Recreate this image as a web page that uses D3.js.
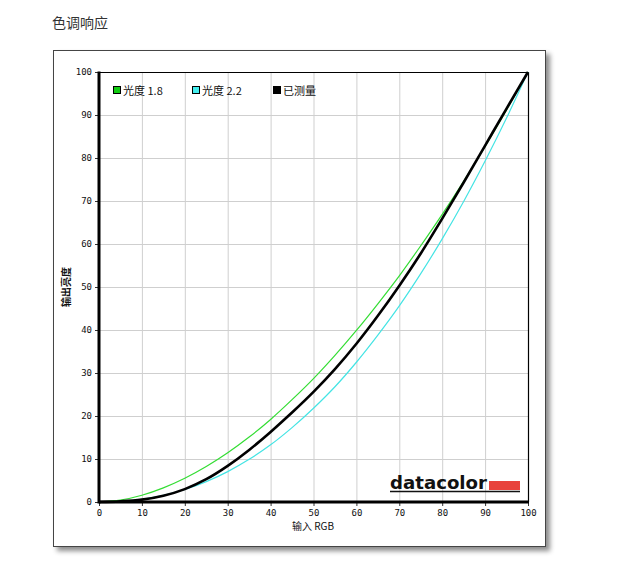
<!DOCTYPE html>
<html><head><meta charset="utf-8">
<script src="https://cdn.jsdelivr.net/npm/d3@7"></script>
<style>body{margin:0;background:#fff;} svg{display:block;}</style>
</head><body>
<svg id="c" width="640" height="571"></svg>
<script>
const inputs = [0,5,10,15,20,25,30,35,40,45,50,55,60,65,70,75,80,85,90,95,100];
const gamma18 = [0,0.46,1.58,3.29,5.52,8.25,11.45,15.1,19.2,23.8,28.7,34.1,39.9,46.1,52.6,59.6,66.9,74.6,82.7,91.2,100];
const gamma22 = [0,0.14,0.63,1.54,2.9,4.74,7.07,9.93,13.3,17.3,21.8,26.8,32.5,38.8,45.6,53.1,61.2,69.9,79.3,89.3,100];
const measured = [0,0.15,0.55,1.45,3.0,5.3,8.4,12.1,16.3,20.8,25.6,30.9,36.8,43.3,50.3,57.8,65.9,74.3,82.9,91.5,100];
const ticks = [0,10,20,30,40,50,60,70,80,90,100];
const seriesNames = ["光度 1.8","光度 2.2","已测量"];
const seriesColors = ["#33dd33","#44e4e4","#000000"];
const legendColors = ["#11cc11","#44eeee","#000000"];

const svg = d3.select("#c");
const fontT = "'Noto Sans CJK SC','Noto Sans',sans-serif";
const fontN = "'DejaVu Sans Mono','Liberation Mono',monospace";

// title
svg.append("text").attr("x",52).attr("y",28).attr("font-family",fontT).attr("font-size",14).attr("fill","#333").text("色调响应");

// shadow + frame
const defs = svg.append("defs");
const f = defs.append("filter").attr("id","sh").attr("x","-5%").attr("y","-5%").attr("width","115%").attr("height","115%");
f.append("feDropShadow").attr("dx",4).attr("dy",4).attr("stdDeviation",2.5).attr("flood-color","#000").attr("flood-opacity",0.45);
svg.append("rect").attr("x",53.5).attr("y",50.5).attr("width",492).attr("height",496)
  .attr("fill","#fff").attr("stroke","#444").attr("stroke-width",1).attr("filter","url(#sh)");

const x = d3.scaleLinear().domain([0,100]).range([99,528]);
const y = d3.scaleLinear().domain([0,100]).range([502,72]);

// grid
const g = svg.append("g");
g.selectAll(".gx").data(ticks.slice(1,-1)).join("line")
  .attr("x1",d=>x(d)+0.5).attr("x2",d=>x(d)+0.5).attr("y1",y(100)).attr("y2",y(0))
  .attr("stroke","#cfcfcf").attr("stroke-width",1);
g.selectAll(".gy").data(ticks.slice(1,-1)).join("line")
  .attr("y1",d=>y(d)+0.5).attr("y2",d=>y(d)+0.5).attr("x1",x(0)).attr("x2",x(100))
  .attr("stroke","#cfcfcf").attr("stroke-width",1);

// top & right borders
svg.append("line").attr("x1",x(0)).attr("x2",x(100)+0.5).attr("y1",y(100)+0.5).attr("y2",y(100)+0.5).attr("stroke","#000").attr("stroke-width",1.2);
svg.append("line").attr("x1",x(100)+0.5).attr("x2",x(100)+0.5).attr("y1",y(100)).attr("y2",y(0)).attr("stroke","#000").attr("stroke-width",1.2);

// axes
const xAxis = svg.append("g").attr("transform",`translate(0,${y(0)})`)
  .call(d3.axisBottom(x).tickValues(ticks).tickSize(4).tickPadding(4).tickFormat(d3.format("d")));
const yAxis = svg.append("g").attr("transform",`translate(${x(0)},0)`)
  .call(d3.axisLeft(y).tickValues(ticks).tickSize(4).tickPadding(3).tickFormat(d3.format("d")));
[xAxis,yAxis].forEach(a=>{
  a.select(".domain").remove();
  a.selectAll("text").attr("font-family",fontN).attr("font-size",9).attr("fill","#111");
  a.selectAll(".tick line").attr("stroke","#333");
});
svg.append("line").attr("x1",x(0)).attr("x2",x(100)+1).attr("y1",y(0)).attr("y2",y(0)).attr("stroke","#000").attr("stroke-width",3);
svg.append("line").attr("x1",x(0)).attr("x2",x(0)).attr("y1",y(100)-0.5).attr("y2",y(0)+1.5).attr("stroke","#000").attr("stroke-width",3);

// axis titles
svg.append("text").attr("x",313).attr("y",530).attr("text-anchor","middle").attr("font-family",fontT).attr("font-size",10).attr("fill","#111")
  .text("输入 RGB");
svg.append("text").attr("transform","translate(70,287) rotate(-90)").attr("text-anchor","middle").attr("font-family",fontT).attr("font-size",10).attr("font-weight","bold").attr("fill","#111")
  .text("输出亮度");

// datacolor logo
svg.append("text").attr("x",390).attr("y",489).attr("font-family","'DejaVu Sans',sans-serif").attr("font-weight","bold").attr("font-size",17).attr("fill","#111")
  .attr("textLength",97).attr("lengthAdjust","spacingAndGlyphs").text("datacolor");
svg.append("rect").attr("x",489).attr("y",481).attr("width",31).attr("height",9).attr("fill","#e8423b");
svg.append("line").attr("x1",390).attr("x2",520).attr("y1",491.5).attr("y2",491.5).attr("stroke","#111").attr("stroke-width",1.5);

// lines
const line = d3.line().x(d=>x(d[0])).y(d=>y(d[1])).curve(d3.curveMonotoneX);
const series = [gamma18,gamma22,measured];
const widths = [1.2,1.2,2.6];
series.forEach((s,i)=>{
  svg.append("path").datum(inputs.map((v,k)=>[v,s[k]])).attr("d",line)
    .attr("fill","none").attr("stroke",seriesColors[i]).attr("stroke-width",widths[i]);
});

// legend
const legX = [113,192,273];
seriesNames.forEach((n,i)=>{
  svg.append("rect").attr("x",legX[i]+0.5).attr("y",86.5).attr("width",7).attr("height",7)
    .attr("fill",legendColors[i]).attr("stroke","#000").attr("stroke-width",1);
  svg.append("text").attr("x",legX[i]+10).attr("y",94.5).attr("font-family",fontT).attr("font-size",11).attr("fill","#111")
    .text(n);
});
</script>
</body></html>
